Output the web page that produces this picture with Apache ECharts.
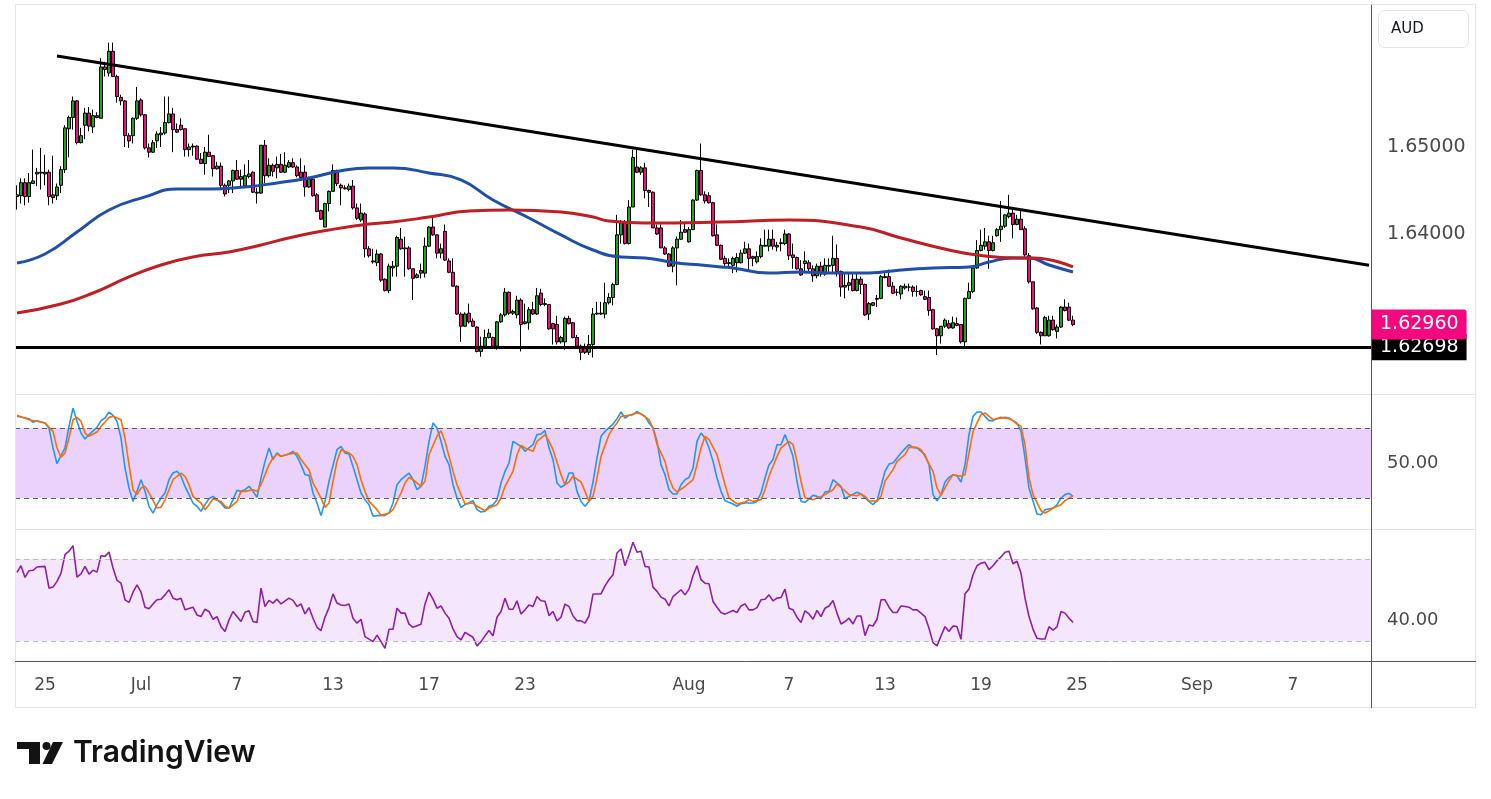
<!DOCTYPE html>
<html>
<head>
<meta charset="utf-8">
<script src="https://cdn.jsdelivr.net/npm/echarts@6/dist/echarts.min.js"></script>
<style>
html, body { margin: 0; padding: 0; background: #fff; }
#main { width: 1491px; height: 799px; }
</style>
</head>
<body>
<div id="main"></div>
<script>
// 4H bars, AUD pair, 25 Jun - 25 Aug; [open, close, low, high]
var ohlc = [
  [1.6443,1.6445,1.6428,1.6456],[1.6444,1.6459,1.6435,1.6464],[1.6459,1.6443,1.6433,1.6464],[1.6443,1.6459,1.6436,1.6470],
  [1.6458,1.6461,1.6458,1.6497],[1.6469,1.6471,1.6455,1.6476],[1.6470,1.6471,1.6451,1.6499],[1.6469,1.6471,1.6456,1.6491],
  [1.6471,1.6443,1.6433,1.6474],[1.6445,1.6442,1.6435,1.6490],[1.6444,1.6454,1.6439,1.6458],[1.6456,1.6474,1.6447,1.6478],
  [1.6474,1.6522,1.6470,1.6525],[1.6521,1.6534,1.6488,1.6536],[1.6534,1.6553,1.6520,1.6558],[1.6553,1.6505,1.6503,1.6554],
  [1.6505,1.6513,1.6504,1.6522],[1.6525,1.6539,1.6509,1.6545],[1.6539,1.6524,1.6518,1.6546],[1.6523,1.6536,1.6516,1.6543],
  [1.6536,1.6534,1.6533,1.6540],[1.6533,1.6592,1.6533,1.6602],[1.6592,1.6589,1.6581,1.6598],[1.6585,1.6610,1.6581,1.6620],
  [1.6610,1.6581,1.6581,1.6620],[1.6581,1.6558,1.6551,1.6583],[1.6557,1.6553,1.6548,1.6560],[1.6553,1.6513,1.6500,1.6554],
  [1.6513,1.6507,1.6499,1.6516],[1.6513,1.6533,1.6504,1.6534],[1.6533,1.6553,1.6531,1.6569],[1.6554,1.6537,1.6535,1.6556],
  [1.6537,1.6499,1.6497,1.6538],[1.6499,1.6494,1.6488,1.6504],[1.6494,1.6505,1.6493,1.6508],[1.6507,1.6515,1.6499,1.6518],
  [1.6514,1.6516,1.6500,1.6523],[1.6516,1.6528,1.6514,1.6558],[1.6528,1.6538,1.6527,1.6558],[1.6538,1.6520,1.6494,1.6545],
  [1.6520,1.6517,1.6516,1.6527],[1.6525,1.6520,1.6519,1.6533],[1.6521,1.6497,1.6489,1.6521],[1.6497,1.6500,1.6489,1.6504],
  [1.6501,1.6500,1.6490,1.6504],[1.6501,1.6486,1.6485,1.6502],[1.6486,1.6481,1.6481,1.6493],[1.6481,1.6494,1.6468,1.6500],
  [1.6494,1.6489,1.6489,1.6514],[1.6490,1.6475,1.6466,1.6491],[1.6475,1.6478,1.6474,1.6483],[1.6478,1.6456,1.6451,1.6482],
  [1.6456,1.6446,1.6443,1.6458],[1.6456,1.6461,1.6447,1.6462],[1.6461,1.6473,1.6447,1.6474],[1.6473,1.6463,1.6462,1.6485],
  [1.6463,1.6466,1.6453,1.6474],[1.6455,1.6467,1.6454,1.6480],[1.6466,1.6469,1.6464,1.6485],[1.6471,1.6448,1.6447,1.6472],
  [1.6448,1.6447,1.6435,1.6453],[1.6447,1.6502,1.6446,1.6502],[1.6502,1.6467,1.6458,1.6508],[1.6467,1.6479,1.6465,1.6487],
  [1.6479,1.6472,1.6466,1.6481],[1.6476,1.6480,1.6464,1.6489],[1.6480,1.6471,1.6470,1.6492],[1.6471,1.6479,1.6470,1.6494],
  [1.6477,1.6482,1.6476,1.6485],[1.6482,1.6477,1.6476,1.6487],[1.6477,1.6467,1.6465,1.6479],[1.6471,1.6465,1.6465,1.6487],
  [1.6471,1.6454,1.6443,1.6479],[1.6454,1.6463,1.6453,1.6466],[1.6463,1.6444,1.6443,1.6466],[1.6445,1.6426,1.6425,1.6447],
  [1.6427,1.6417,1.6416,1.6428],[1.6408,1.6435,1.6408,1.6436],[1.6435,1.6449,1.6426,1.6450],[1.6449,1.6473,1.6449,1.6480],
  [1.6473,1.6458,1.6455,1.6474],[1.6456,1.6453,1.6433,1.6458],[1.6453,1.6452,1.6451,1.6456],[1.6451,1.6455,1.6449,1.6458],
  [1.6455,1.6430,1.6428,1.6462],[1.6430,1.6418,1.6416,1.6435],[1.6416,1.6424,1.6414,1.6435],[1.6423,1.6383,1.6373,1.6425],
  [1.6383,1.6375,1.6373,1.6386],[1.6369,1.6368,1.6366,1.6383],[1.6367,1.6377,1.6363,1.6382],[1.6377,1.6347,1.6345,1.6378],
  [1.6348,1.6335,1.6334,1.6349],[1.6335,1.6363,1.6332,1.6366],[1.6361,1.6363,1.6351,1.6369],[1.6363,1.6396,1.6351,1.6398],
  [1.6394,1.6383,1.6382,1.6407],[1.6383,1.6384,1.6351,1.6397],[1.6384,1.6360,1.6359,1.6386],[1.6360,1.6349,1.6324,1.6360],
  [1.6350,1.6353,1.6349,1.6355],[1.6358,1.6355,1.6349,1.6366],[1.6355,1.6386,1.6350,1.6396],[1.6386,1.6408,1.6385,1.6409],
  [1.6408,1.6399,1.6398,1.6421],[1.6399,1.6378,1.6372,1.6399],[1.6378,1.6383,1.6372,1.6389],[1.6403,1.6370,1.6369,1.6411],
  [1.6369,1.6356,1.6355,1.6372],[1.6356,1.6340,1.6340,1.6372],[1.6340,1.6308,1.6307,1.6341],[1.6308,1.6294,1.6276,1.6310],
  [1.6294,1.6308,1.6293,1.6310],[1.6309,1.6299,1.6297,1.6320],[1.6300,1.6294,1.6293,1.6303],[1.6293,1.6265,1.6264,1.6294],
  [1.6265,1.6271,1.6259,1.6282],[1.6271,1.6281,1.6269,1.6290],[1.6281,1.6286,1.6280,1.6291],[1.6281,1.6271,1.6270,1.6282],
  [1.6271,1.6299,1.6267,1.6300],[1.6299,1.6307,1.6298,1.6309],[1.6307,1.6333,1.6305,1.6338],[1.6333,1.6309,1.6307,1.6334],
  [1.6309,1.6311,1.6307,1.6313],[1.6307,1.6324,1.6303,1.6329],[1.6324,1.6296,1.6265,1.6326],[1.6297,1.6299,1.6296,1.6320],
  [1.6298,1.6313,1.6290,1.6316],[1.6313,1.6308,1.6307,1.6322],[1.6308,1.6329,1.6307,1.6338],[1.6332,1.6319,1.6317,1.6337],
  [1.6319,1.6320,1.6317,1.6326],[1.6319,1.6291,1.6290,1.6319],[1.6297,1.6291,1.6273,1.6298],[1.6296,1.6276,1.6273,1.6306],
  [1.6276,1.6281,1.6274,1.6283],[1.6276,1.6303,1.6267,1.6305],[1.6303,1.6297,1.6296,1.6306],[1.6298,1.6281,1.6280,1.6299],
  [1.6281,1.6271,1.6269,1.6284],[1.6271,1.6264,1.6255,1.6273],[1.6269,1.6264,1.6262,1.6274],[1.6264,1.6273,1.6261,1.6284],
  [1.6273,1.6308,1.6258,1.6315],[1.6308,1.6309,1.6307,1.6322],[1.6308,1.6309,1.6307,1.6322],[1.6308,1.6321,1.6303,1.6344],
  [1.6321,1.6327,1.6319,1.6332],[1.6327,1.6342,1.6318,1.6344],[1.6342,1.6399,1.6341,1.6422],[1.6399,1.6413,1.6389,1.6416],
  [1.6413,1.6389,1.6388,1.6416],[1.6389,1.6431,1.6388,1.6439],[1.6431,1.6488,1.6431,1.6497],[1.6477,1.6471,1.6470,1.6499],
  [1.6471,1.6476,1.6468,1.6478],[1.6476,1.6450,1.6441,1.6482],[1.6450,1.6448,1.6431,1.6451],[1.6448,1.6407,1.6407,1.6449],
  [1.6407,1.6400,1.6399,1.6411],[1.6407,1.6384,1.6384,1.6411],[1.6384,1.6377,1.6376,1.6386],[1.6377,1.6363,1.6362,1.6378],
  [1.6363,1.6384,1.6356,1.6386],[1.6384,1.6394,1.6341,1.6397],[1.6394,1.6402,1.6393,1.6416],[1.6405,1.6402,1.6401,1.6414],
  [1.6391,1.6405,1.6390,1.6408],[1.6405,1.6439,1.6405,1.6440],[1.6439,1.6473,1.6438,1.6474],[1.6473,1.6445,1.6444,1.6504],
  [1.6445,1.6438,1.6435,1.6449],[1.6444,1.6436,1.6435,1.6448],[1.6436,1.6398,1.6397,1.6437],[1.6399,1.6387,1.6386,1.6411],
  [1.6387,1.6371,1.6370,1.6388],[1.6372,1.6366,1.6363,1.6375],[1.6366,1.6367,1.6361,1.6372],[1.6364,1.6372,1.6355,1.6374],
  [1.6367,1.6373,1.6356,1.6378],[1.6367,1.6378,1.6366,1.6382],[1.6378,1.6383,1.6377,1.6391],[1.6383,1.6372,1.6357,1.6389],
  [1.6374,1.6372,1.6363,1.6375],[1.6368,1.6374,1.6366,1.6380],[1.6374,1.6387,1.6372,1.6395],[1.6386,1.6387,1.6386,1.6405],
  [1.6386,1.6394,1.6380,1.6405],[1.6394,1.6386,1.6382,1.6405],[1.6385,1.6387,1.6380,1.6391],[1.6389,1.6390,1.6380,1.6395],
  [1.6389,1.6400,1.6387,1.6405],[1.6400,1.6375,1.6370,1.6401],[1.6376,1.6373,1.6360,1.6389],[1.6373,1.6360,1.6359,1.6374],
  [1.6360,1.6353,1.6352,1.6370],[1.6366,1.6369,1.6355,1.6380],[1.6367,1.6360,1.6355,1.6370],[1.6360,1.6352,1.6345,1.6364],
  [1.6352,1.6363,1.6349,1.6366],[1.6363,1.6354,1.6351,1.6368],[1.6354,1.6364,1.6352,1.6372],[1.6363,1.6364,1.6355,1.6372],
  [1.6364,1.6372,1.6355,1.6398],[1.6372,1.6357,1.6351,1.6388],[1.6357,1.6339,1.6328,1.6358],[1.6339,1.6341,1.6326,1.6355],
  [1.6341,1.6344,1.6335,1.6355],[1.6348,1.6335,1.6334,1.6355],[1.6335,1.6348,1.6334,1.6355],[1.6348,1.6342,1.6331,1.6351],
  [1.6342,1.6307,1.6306,1.6343],[1.6308,1.6320,1.6301,1.6322],[1.6321,1.6318,1.6317,1.6322],[1.6325,1.6326,1.6316,1.6330],
  [1.6326,1.6351,1.6325,1.6353],[1.6350,1.6351,1.6349,1.6357],[1.6351,1.6340,1.6339,1.6359],[1.6340,1.6332,1.6331,1.6345],
  [1.6333,1.6333,1.6329,1.6337],[1.6331,1.6340,1.6325,1.6341],[1.6338,1.6340,1.6336,1.6343],[1.6339,1.6339,1.6334,1.6343],
  [1.6339,1.6334,1.6328,1.6341],[1.6334,1.6334,1.6328,1.6341],[1.6335,1.6330,1.6329,1.6336],[1.6328,1.6325,1.6324,1.6335],
  [1.6327,1.6312,1.6306,1.6335],[1.6313,1.6291,1.6290,1.6314],[1.6291,1.6283,1.6261,1.6292],[1.6283,1.6294,1.6274,1.6294],
  [1.6294,1.6301,1.6292,1.6303],[1.6297,1.6292,1.6291,1.6301],[1.6292,1.6298,1.6291,1.6305],[1.6297,1.6295,1.6294,1.6304],
  [1.6296,1.6276,1.6274,1.6296],[1.6276,1.6326,1.6271,1.6327],[1.6326,1.6334,1.6325,1.6344],[1.6334,1.6361,1.6332,1.6362],
  [1.6361,1.6381,1.6360,1.6393],[1.6381,1.6387,1.6380,1.6405],[1.6386,1.6391,1.6382,1.6407],[1.6391,1.6381,1.6360,1.6398],
  [1.6381,1.6390,1.6380,1.6398],[1.6398,1.6405,1.6397,1.6407],[1.6405,1.6409,1.6391,1.6438],[1.6409,1.6422,1.6407,1.6423],
  [1.6420,1.6424,1.6418,1.6445],[1.6424,1.6411,1.6395,1.6428],[1.6411,1.6417,1.6410,1.6422],[1.6417,1.6405,1.6405,1.6428],
  [1.6406,1.6376,1.6374,1.6409],[1.6375,1.6345,1.6343,1.6378],[1.6345,1.6314,1.6313,1.6345],[1.6315,1.6287,1.6285,1.6316],
  [1.6287,1.6283,1.6273,1.6288],[1.6283,1.6304,1.6283,1.6306],[1.6283,1.6301,1.6282,1.6306],[1.6301,1.6290,1.6289,1.6306],
  [1.6288,1.6293,1.6280,1.6296],[1.6293,1.6316,1.6292,1.6317],[1.6316,1.6312,1.6311,1.6325],[1.6316,1.6301,1.6300,1.6321],
  [1.6301,1.6296,1.6294,1.6306]
];

// moving averages, [bar index, price]
var maBlue = [[0,1.63667],[7,1.63770],[15,1.64023],[23,1.64276],[32,1.64426],[40,1.64518],[48,1.64518],[57,1.64541],
  [65,1.64587],[73,1.64644],[82,1.64736],[88,1.64759],[94,1.64759],[103,1.64702],[111,1.64621],[119,1.64391],
  [128,1.64184],[136,1.63989],[144,1.63816],[151,1.63736],[157,1.63725],[165,1.63667],[171,1.63644],[176,1.63621],
  [179,1.63610],[188,1.63552],[196,1.63564],[204,1.63552],[213,1.63552],[221,1.63587],[229,1.63610],[238,1.63621],
  [243,1.63679],[249,1.63725],[253,1.63725],[258,1.63644],[264,1.63564]];
var maRed = [[0,1.63092],[11,1.63195],[19,1.63322],[28,1.63506],[36,1.63644],[44,1.63736],[53,1.63793],[61,1.63874],
  [69,1.63966],[78,1.64046],[88,1.64115],[94,1.64138],[103,1.64195],[113,1.64264],[123,1.64276],[136,1.64253],
  [144,1.64195],[148,1.64149],[157,1.64126],[176,1.64138],[193,1.64161],[211,1.64080],[221,1.63954],[233,1.63816],
  [240,1.63759],[250,1.63725],[254,1.63725],[264,1.63621]];

// stochastic %K / %D, [bar index, value]
var stochK = [[0,90],[3,88],[4,84.9],[5,86.3],[7,84.3],[8,80],[9,62.9],[10,49.4],[12,62.9],[13,81.4],[14,97.1],[15,85.7],
  [16,75.7],[17,70.6],[18,74.3],[20,80.6],[21,86.3],[22,88.6],[23,93.7],[24,90.9],[25,85.7],[26,71.4],[27,45.7],[28,28.6],
  [29,17.1],[30,25.7],[31,35.7],[32,25.7],[33,12.9],[34,7.1],[35,14.3],[36,20],[37,24.3],[38,35.7],[39,41.4],[40,42.9],
  [41,38.6],[42,30],[43,22.9],[44,15.7],[45,12.9],[46,8.6],[47,14.3],[48,19.4],[49,21.4],[51,15.7],[52,11.4],[53,11.4],
  [54,18.6],[55,26.6],[56,25.7],[57,27.1],[58,30],[59,25.7],[60,20.6],[61,37.1],[62,51.4],[63,62.9],[64,52.9],[65,58.6],
  [66,55.7],[68,57.7],[69,60],[70,55.7],[71,48.6],[72,40],[73,39.4],[74,24.3],[75,15.7],[76,4.9],[77,17.1],[78,34.3],
  [80,61.4],[81,64.3],[82,58.6],[83,57.7],[84,47.1],[85,35.7],[86,24.3],[87,18.6],[88,14.3],[89,4.3],[90,4.9],[92,5.1],
  [93,7.1],[94,15.7],[95,31.4],[96,35.7],[98,41.4],[99,35.7],[100,27.1],[101,30],[102,47.1],[103,68.6],[104,84.3],[105,80],
  [106,68.6],[107,55.7],[108,48.6],[109,31.4],[110,20],[111,12],[112,14.3],[114,17.7],[115,10],[116,8],[117,8.6],[118,12.9],
  [119,14.3],[120,18.6],[121,32.9],[122,42.9],[123,50],[124,68.6],[126,64.3],[127,60],[128,62.9],[129,65.7],[130,74.3],
  [131,74.9],[132,77.7],[133,63],[134,52.9],[135,32.9],[136,29.2],[137,31.4],[138,41.4],[139,41.4],[140,25.7],[141,17.1],
  [142,12.9],[143,17.1],[144,33.7],[145,54.3],[146,72.9],[147,77.1],[149,83.4],[150,88],[151,93.7],[152,88.6],[153,90.9],
  [154,91.4],[155,94.3],[157,90],[158,84.3],[159,80],[160,68.6],[161,48.6],[162,40],[163,27.1],[164,23.4],[165,23.4],
  [166,31.4],[167,35.7],[168,37.7],[169,45.7],[170,68.6],[171,75.7],[172,71.4],[173,62.9],[174,51.4],[175,37.1],[176,25.7],
  [177,17.7],[179,14.9],[180,12.9],[181,15.2],[182,15.7],[184,15.7],[185,17.1],[186,24.3],[187,37.1],[188,48.6],[189,52.9],
  [190,65.7],[191,65.7],[192,74.3],[193,65.7],[194,55.7],[195,34.3],[196,17.1],[197,16.3],[199,22.3],[200,21.4],[201,19.4],
  [202,25.1],[203,25.7],[204,35.7],[206,30],[207,19.4],[208,21.4],[210,24.9],[211,23.4],[212,20],[213,17.1],[214,14.3],
  [215,17.7],[216,30],[217,42.9],[218,49.1],[219,50],[221,58.6],[222,62.3],[223,65.7],[224,63.4],[225,62.9],[227,57.1],
  [228,48.6],[229,22.9],[230,17.7],[231,22.9],[232,33.7],[233,37.7],[234,40],[235,39.1],[236,33.7],[237,48.6],[238,74.3],
  [239,90],[240,93.7],[241,93.7],[242,90],[243,86.3],[244,86.3],[245,88],[247,89.1],[248,88.6],[249,86.3],[250,84.3],
  [251,77.1],[252,54.3],[253,28.6],[255,6.3],[256,5.7],[257,10],[259,11.4],[260,14.3],[261,20],[262,22.9],[263,24],[264,21.4]];
var stochD = [[0,90.9],[3,87.1],[7,84.3],[9,77.1],[10,62.9],[11,54.9],[12,58.6],[13,71.4],[14,87.1],[15,89.1],[16,85.7],
  [17,75.7],[18,72.9],[20,76.6],[21,81.4],[22,85.1],[23,89.1],[24,90],[26,87.1],[27,71.4],[28,48.6],[29,27.1],[30,22.9],
  [31,28.6],[32,30],[33,24.3],[35,11.4],[36,12],[37,18.6],[38,27.1],[39,35.7],[41,41.4],[42,38.6],[43,31.4],[44,21.4],
  [46,15.7],[47,10],[48,14.3],[49,19.4],[51,17.1],[52,12.9],[53,11.4],[55,17.1],[56,25.7],[57,25.7],[59,27.1],[60,25.7],
  [61,31.4],[63,48.6],[64,54.3],[65,57.7],[66,55.7],[68,57.7],[70,58.6],[71,52.9],[73,44.3],[74,32.9],[76,20],[77,12],
  [78,15.7],[79,34.3],[80,51.4],[81,61.4],[83,58.6],[84,55.7],[85,48.6],[86,35.7],[87,25.7],[88,17.1],[90,10],[91,5.1],
  [93,7.1],[94,10],[96,24.3],[97,32.9],[98,37.7],[99,35.7],[101,30],[102,34.3],[103,57.1],[105,72.9],[106,77.7],[107,68.6],
  [108,55.7],[109,42.9],[110,31.4],[111,22.9],[112,14.9],[114,15.7],[115,12.9],[117,9.1],[118,11.4],[120,14.3],[121,20],
  [122,30],[124,42.9],[125,57.1],[126,65.1],[127,62.9],[129,60],[130,68.6],[132,74.3],[133,68.6],[134,61.4],[136,40],
  [137,31.4],[138,33.7],[139,38.6],[141,33.7],[142,25.7],[143,17.1],[144,21.4],[145,37.1],[146,55.7],[148,74.3],[149,80],
  [150,84.3],[151,90],[153,90.9],[155,92.9],[156,92],[158,87.1],[159,80],[160,65.7],[162,51.4],[163,37.1],[164,28.6],
  [165,25.1],[167,30],[169,35.7],[170,48.6],[171,62.9],[172,72.9],[173,70],[175,57.1],[176,44.3],[177,31.4],[178,20],
  [180,14.9],[182,16.6],[183,18.6],[184,17.1],[186,18.6],[187,27.1],[188,38.6],[190,55.7],[191,62.9],[193,68.6],[194,65.7],
  [195,51.4],[196,34.3],[197,20],[199,18.6],[201,21.4],[202,22.9],[204,27.1],[205,32],[206,29.2],[208,22.9],[210,22],
  [211,23.4],[212,21.4],[213,17.7],[215,17.1],[216,21.4],[217,34.3],[219,44.3],[220,51.4],[222,57.1],[223,63.4],[225,63.4],
  [226,61.4],[227,55.7],[229,42.9],[230,28.6],[231,22.3],[232,28.6],[233,34.9],[234,40],[236,38.6],[237,40],[238,58.6],
  [239,77.1],[241,91.4],[242,92.9],[243,90],[244,87.1],[246,89.1],[248,88],[249,86.3],[250,83.4],[251,81.4],[252,65.7],
  [253,37.1],[254,22.9],[256,9.1],[257,7.1],[258,9.1],[259,11.4],[261,14.3],[262,17.7],[264,22]];

// RSI, [bar index, value]
var rsi = [[0,63.5],[1,66.7],[2,61],[3,64.3],[4,64.5],[5,66.1],[7,66.4],[8,55.8],[9,56.3],[10,59.1],[11,63.1],[12,72.1],
  [13,73.8],[14,76.5],[15,61.2],[16,62.8],[17,66.4],[18,62.6],[19,64.5],[20,63.6],[21,71.6],[22,71.3],[23,73.4],[24,65.6],
  [25,59.6],[26,58.2],[27,50.1],[28,48.8],[29,53.8],[30,57.4],[31,53.8],[32,46.5],[33,45.7],[34,48.1],[35,50.1],[36,50.4],
  [37,52.5],[38,55],[39,50.9],[40,50.1],[41,50.9],[42,45.2],[44,46.5],[45,42.7],[46,41.9],[47,45.5],[48,44.4],[49,40.6],
  [50,41.9],[51,37],[52,34.6],[53,40.3],[54,44.4],[55,41.9],[56,39.5],[57,44],[58,44.7],[59,39.5],[60,39],[61,55.8],
  [62,46.8],[63,49.8],[64,48.5],[65,50.4],[66,48.1],[68,50.9],[69,49.8],[70,46.8],[71,48.1],[72,43.2],[73,46.3],[74,41.1],
  [75,36.7],[76,35.1],[77,41.6],[78,46.3],[79,53],[80,48.5],[81,47.6],[82,47.3],[83,48.1],[84,41.1],[85,38.7],[86,40.6],
  [87,32.1],[89,29.7],[90,32.9],[91,29.7],[92,26.4],[93,35.7],[94,35.7],[95,46],[96,43.6],[97,43.6],[98,38.2],[99,36.7],
  [101,38.2],[102,48.1],[103,53.8],[104,50.4],[105,46],[106,47.1],[107,43.6],[108,41.1],[109,35.9],[110,32.1],[111,30.5],
  [112,34.2],[114,31.8],[115,27.6],[116,29.7],[117,32.5],[118,35.1],[119,32.5],[120,41.6],[121,44.4],[122,50.9],[123,45.5],
  [124,45.5],[125,49.6],[126,43.2],[127,45.2],[128,47.6],[129,46.8],[130,51.7],[131,49.6],[132,49.4],[133,42.4],[134,44.4],
  [135,39.8],[136,41.6],[137,48],[138,46.8],[139,42.2],[140,39.9],[141,39.8],[142,38.7],[143,42.2],[144,52.9],[145,52.9],
  [146,53],[147,56.9],[148,59.9],[149,62.3],[150,72.9],[151,74.9],[152,66.7],[153,72.1],[154,78.2],[155,73.3],[156,73.8],
  [157,66.4],[158,66.1],[159,56.3],[160,54.2],[161,51.4],[162,50.4],[163,47.1],[164,51.7],[165,53.3],[166,55],[167,52.5],
  [168,55.3],[169,61.8],[170,66.7],[171,59.9],[172,58.2],[173,57.9],[174,49.3],[175,46.5],[176,43.9],[177,43.1],[179,44.9],
  [180,43.9],[181,47.1],[182,48.1],[183,45.2],[184,45.2],[185,46.3],[186,50.1],[187,50.4],[188,52.5],[189,49.6],[190,50.9],
  [191,51.2],[192,55.3],[193,46],[194,45.2],[195,41.6],[196,39],[197,44.7],[198,43.2],[199,40.6],[200,44.9],[201,41.9],
  [202,46],[203,47.1],[204,49.8],[205,43.6],[206,38.3],[207,39.5],[208,41.1],[209,38.3],[210,42.2],[211,42.2],[212,32.6],
  [213,37.8],[214,37.3],[215,40.6],[216,50.1],[217,50.1],[218,46.5],[219,43.9],[220,43.9],[221,47.1],[222,46.8],[223,46.5],
  [224,45.2],[225,45.2],[226,43.6],[227,41.9],[228,36.2],[229,29.2],[230,27.6],[231,32.5],[232,37],[233,34.6],[234,37.3],
  [235,37],[236,30.8],[237,53],[238,55.3],[239,62.3],[240,66.7],[241,68],[242,68.4],[243,64.8],[244,66.7],[245,69.2],
  [246,71],[247,73.3],[248,73.8],[249,67.7],[250,68.9],[251,63.1],[252,50.9],[253,41.9],[254,35.8],[255,31.3],[256,31],
  [257,31],[258,37],[259,35.3],[260,36.9],[261,44.4],[262,43.6],[263,41.1],[264,39.1]];

// drawn lines and levels
var trendLine = [[10, 1.66046], [338, 1.63642]];
var supportLevel = 1.62698;
var lastPrice = 1.62960;
var priceTicks = [1.65, 1.64];
var stochBand = [20, 80];
var rsiBand = [30, 70];
var stochTicks = [50];
var rsiTicks = [40];

// x axis: 339 slots (bars plus empty space to the right)
var slotCount = 339;
var labelIdx = [7, 31, 55, 79, 103, 127, 168, 193, 217, 241, 265, 295, 319];
var labelText = ['25', 'Jul', '7', '13', '17', '23', 'Aug', '7', '13', '19', '25', 'Sep', '7'];

var slots = [];
for (var s = 0; s < slotCount; s++) slots.push(String(s));

var FONT = 'DejaVu Sans';
var TXT = '#4a4a4a';
var CLEAR = 'rgba(0,0,0,0)';

function axisTag(v, digits, size) {
  return {
    yAxis: v,
    lineStyle: { color: CLEAR, width: 0 },
    label: {
      show: true, position: 'end', distance: 16,
      formatter: v.toFixed(digits), color: TXT, fontSize: size, fontFamily: FONT
    }
  };
}

function dashed(v, color) {
  return { yAxis: v, lineStyle: { color: color, type: [5, 4], width: 1 }, label: { show: false } };
}

var grids = [
  { left: 15, right: 120, top: 5, height: 389 },
  { left: 15, right: 120, top: 395, height: 134 },
  { left: 15, right: 120, top: 530, height: 131 }
];

var xAxes = grids.map(function (g, gi) {
  var ax = {
    type: 'category', gridIndex: gi, data: slots, boundaryGap: true,
    axisLine: { show: false }, axisTick: { show: false }, splitLine: { show: false },
    axisLabel: { show: false }
  };
  if (gi === 2) {
    ax.axisLabel = {
      show: true,
      interval: function (idx) { return labelIdx.indexOf(idx) >= 0; },
      formatter: function (v, idx) {
        var k = labelIdx.indexOf(idx);
        return k >= 0 ? labelText[k] : '';
      },
      margin: 16, color: TXT, fontSize: 17, fontFamily: FONT
    };
  }
  return ax;
});

function hiddenY(gi, mn, mx) {
  return {
    type: 'value', gridIndex: gi, min: mn, max: mx, position: 'right', scale: true,
    axisLine: { show: false }, axisTick: { show: false }, axisLabel: { show: false }, splitLine: { show: false }
  };
}

var option = {
  animation: false,
  backgroundColor: '#ffffff',
  grid: grids,
  xAxis: xAxes,
  yAxis: [
    hiddenY(0, 1.62161, 1.66632),
    hiddenY(1, -6.57, 108.29),
    hiddenY(2, 20.24, 84.15)
  ],
  series: [
    {
      name: 'AUD', type: 'candlestick', xAxisIndex: 0, yAxisIndex: 0,
      data: ohlc, barWidth: 3,
      itemStyle: { color: '#21a121', color0: '#f0107d', borderColor: '#000', borderColor0: '#000', borderWidth: 1 },
      markLine: {
        silent: true, symbol: ['none', 'none'], animation: false, precision: 5,
        data: [
          {
            yAxis: supportLevel,
            lineStyle: { color: '#000', width: 3, type: 'solid' },
            label: {
              show: true, position: 'end', distance: 1, formatter: supportLevel.toFixed(5),
              color: '#fff', backgroundColor: '#000', padding: [3, 8, 3, 8], lineHeight: 20,
              fontSize: 19, fontFamily: FONT
            }
          }
        ].concat(priceTicks.map(function (p) { return axisTag(p, 5, 19); }))
      }
    },
    {
      name: 'MA fast', type: 'line', xAxisIndex: 0, yAxisIndex: 0, data: maBlue,
      smooth: true, symbol: 'none', lineStyle: { color: '#1f4fa6', width: 3 }, z: 3
    },
    {
      name: 'MA slow', type: 'line', xAxisIndex: 0, yAxisIndex: 0, data: maRed,
      smooth: true, symbol: 'none', lineStyle: { color: '#bd1f24', width: 3 }, z: 3
    },
    {
      name: 'Trend', type: 'line', xAxisIndex: 0, yAxisIndex: 0, data: trendLine,
      symbol: 'none', lineStyle: { color: '#000', width: 3 }, z: 4,
      markLine: {
        silent: true, symbol: ['none', 'none'], animation: false, precision: 5,
        data: [{
          yAxis: lastPrice,
          lineStyle: { color: CLEAR, width: 0 },
          label: {
            show: true, position: 'end', distance: 1, formatter: lastPrice.toFixed(5),
            color: '#fff', backgroundColor: '#f5087f', padding: [5, 8, 5, 8], lineHeight: 20,
            borderRadius: [0, 3, 3, 0], fontSize: 19, fontFamily: FONT
          }
        }]
      }
    },
    {
      name: '%K', type: 'line', xAxisIndex: 1, yAxisIndex: 1, data: stochK,
      symbol: 'none', lineStyle: { color: '#2196f3', width: 1.6 }, z: 4,
      markArea: {
        silent: true,
        itemStyle: { color: '#ead2fc' },
        data: [[{ yAxis: stochBand[0] }, { yAxis: stochBand[1] }]]
      },
      markLine: {
        silent: true, symbol: ['none', 'none'], animation: false, precision: 2,
        data: stochBand.map(function (v) { return dashed(v, '#5b5e66'); })
          .concat(stochTicks.map(function (v) { return axisTag(v, 2, 18); }))
      }
    },
    {
      name: '%D', type: 'line', xAxisIndex: 1, yAxisIndex: 1, data: stochD,
      symbol: 'none', lineStyle: { color: '#ff6d00', width: 1.6 }, z: 4
    },
    {
      name: 'RSI', type: 'line', xAxisIndex: 2, yAxisIndex: 2, data: rsi,
      symbol: 'none', lineStyle: { color: '#8e1fa8', width: 1.6 }, z: 4,
      markArea: {
        silent: true,
        itemStyle: { color: '#f4e6fd' },
        data: [[{ yAxis: rsiBand[0] }, { yAxis: rsiBand[1] }]]
      },
      markLine: {
        silent: true, symbol: ['none', 'none'], animation: false, precision: 2,
        data: rsiBand.map(function (v) { return dashed(v, '#c3b6cb'); })
          .concat(rsiTicks.map(function (v) { return axisTag(v, 2, 18); }))
      }
    }
  ],
  graphic: [
    // frame and pane dividers
    { type: 'rect', shape: { x: 15.5, y: 4.5, width: 1460, height: 703 }, style: { fill: 'none', stroke: '#e0e3eb', lineWidth: 1 }, z: 10, silent: true },
    { type: 'line', shape: { x1: 15, y1: 394.5, x2: 1476, y2: 394.5 }, style: { stroke: '#e0e3eb', lineWidth: 1 }, z: 10, silent: true },
    { type: 'line', shape: { x1: 15, y1: 529.5, x2: 1476, y2: 529.5 }, style: { stroke: '#e0e3eb', lineWidth: 1 }, z: 10, silent: true },
    { type: 'line', shape: { x1: 1371.5, y1: 5, x2: 1371.5, y2: 708 }, style: { stroke: '#555', lineWidth: 1 }, z: 10, silent: true },
    { type: 'line', shape: { x1: 15, y1: 661.5, x2: 1476, y2: 661.5 }, style: { stroke: '#555', lineWidth: 1 }, z: 10, silent: true },
    // currency box
    { type: 'rect', shape: { x: 1378.5, y: 10.5, width: 90, height: 37, r: 6 }, style: { fill: '#fff', stroke: '#e0e3eb', lineWidth: 1 }, z: 10, silent: true },
    { type: 'text', style: { x: 1391, y: 29, text: 'AUD', fill: '#131722', font: '15px "DejaVu Sans"', textVerticalAlign: 'middle' }, z: 11, silent: true },
    // TradingView logo
    { type: 'polygon', shape: { points: [[17, 742], [40, 742], [40, 764], [29, 764], [29, 749], [17, 749]] }, style: { fill: '#131313' }, z: 10, silent: true },
    { type: 'circle', shape: { cx: 46.5, cy: 746, r: 4 }, style: { fill: '#131313' }, z: 10, silent: true },
    { type: 'polygon', shape: { points: [[53, 742], [63, 742], [52, 764], [42.5, 764]] }, style: { fill: '#131313' }, z: 10, silent: true },
    { type: 'text', style: { x: 73, y: 753, text: 'TradingView', fill: '#131313', font: '600 30px Inter', textVerticalAlign: 'middle' }, z: 10, silent: true }
  ]
};

var chart = echarts.init(document.getElementById('main'));
chart.setOption(option);
</script>
</body>
</html>
